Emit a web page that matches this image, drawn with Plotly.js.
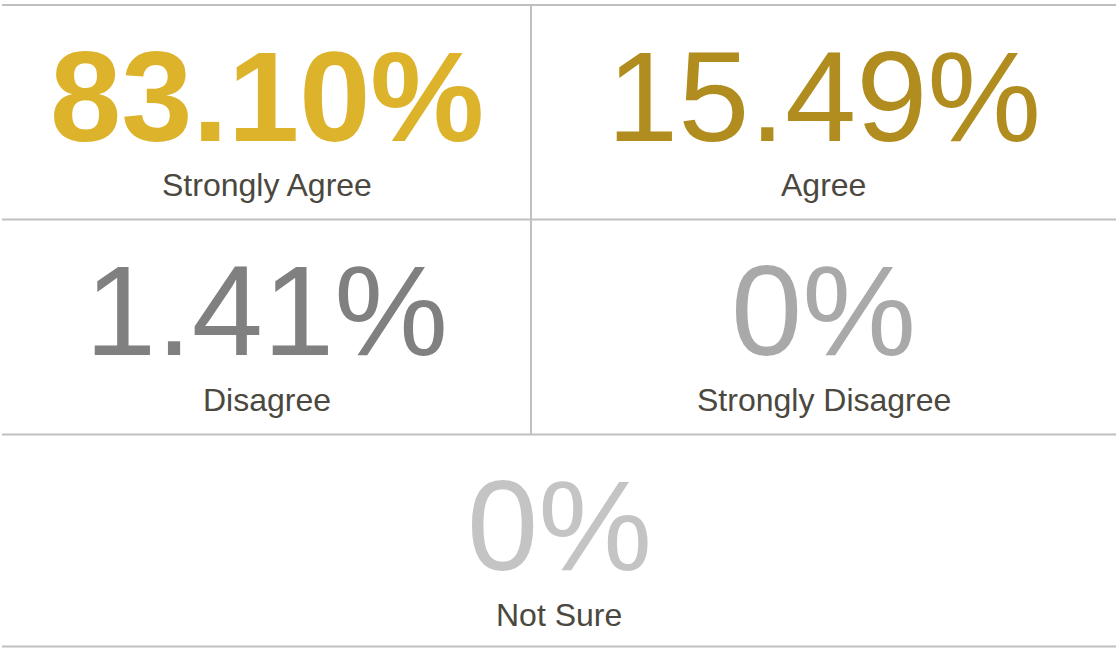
<!DOCTYPE html>
<html>
<head>
<meta charset="utf-8">
<script src="https://cdn.plot.ly/plotly-3.0.1.min.js"></script>
<style>
html,body{margin:0;padding:0;background:#fff;}
#chart{width:1116px;height:648px;}
</style>
</head>
<body>
<div id="chart"></div>
<script>
// Data
const categories = ["Strongly Agree", "Agree", "Disagree", "Strongly Disagree", "Not Sure"];
const percentages = [83.10, 15.49, 1.41, 0, 0];
const valueColors = ["#DCB32A", "#B08D1E", "#808080", "#A9A9A9", "#C4C4C4"];
const valueWeights = ["bold", "normal", "normal", "normal", "normal"];

// Layout geometry (pixel-like data units)
const W = 1116, H = 648;
const xLeft = 2, xMid = 531, xRight = 1116;
const rowTops = [5, 219.5, 434.5];
const rowBottom = 646.5;
const lineColor = "#C0C0C0";
const labelColor = "#4B4840";
const fontFam = "Liberation Sans, Arial, sans-serif";

function fmt(v) {
  return (v === 0 ? "0" : v.toFixed(2)) + "%";
}

// cell centers from index
function cellOf(i) {
  if (i < 4) {
    const row = Math.floor(i / 2), col = i % 2;
    const x0 = col === 0 ? xLeft : xMid;
    const x1 = col === 0 ? xMid : xRight;
    return {cx: (x0 + x1) / 2, top: rowTops[row]};
  }
  return {cx: (xLeft + xRight) / 2, top: rowTops[2]};
}

const numX = [], numY = [], labX = [], labY = [];
categories.forEach((c, i) => {
  const cell = cellOf(i);
  numX.push(cell.cx); numY.push(cell.top + 91);
  labX.push(cell.cx); labY.push(cell.top + 180);
});

const annotations = [];
categories.forEach((c, i) => {
  annotations.push({
    x: numX[i], y: numY[i], xref: "x", yref: "y",
    text: fmt(percentages[i]), showarrow: false,
    xanchor: "center", yanchor: "middle",
    font: {family: fontFam, size: 128, color: valueColors[i], weight: valueWeights[i]}
  });
  annotations.push({
    x: labX[i], y: labY[i], xref: "x", yref: "y",
    text: c, showarrow: false,
    xanchor: "center", yanchor: "middle",
    font: {family: fontFam, size: 32, color: labelColor}
  });
});

const shapes = [];
rowTops.concat([rowBottom]).forEach(y => {
  shapes.push({type: "line", xref: "x", yref: "y", x0: xLeft, x1: xRight, y0: y, y1: y,
    line: {color: lineColor, width: 2}});
});
shapes.push({type: "line", xref: "x", yref: "y", x0: xMid, x1: xMid, y0: rowTops[0], y1: rowTops[2],
  line: {color: lineColor, width: 2}});

const trace = {x: numX, y: numY, mode: "markers", marker: {opacity: 0}, hoverinfo: "skip", showlegend: false};

const layout = {
  width: W, height: H,
  margin: {l: 0, r: 0, t: 0, b: 0},
  paper_bgcolor: "#fff", plot_bgcolor: "#fff",
  xaxis: {range: [0, W], visible: false, fixedrange: true},
  yaxis: {range: [H, 0], visible: false, fixedrange: true},
  annotations: annotations,
  shapes: shapes,
  showlegend: false
};

Plotly.newPlot("chart", [trace], layout, {displayModeBar: false, staticPlot: true});
</script>
</body>
</html>
